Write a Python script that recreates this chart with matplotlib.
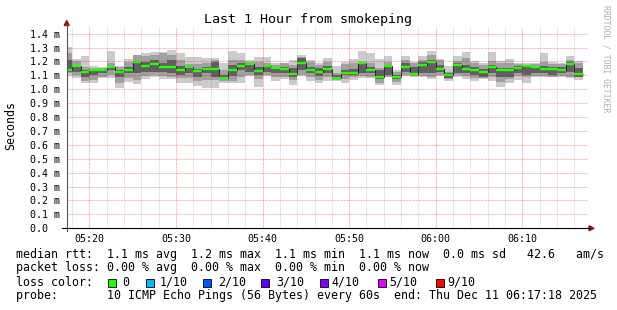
import matplotlib
matplotlib.use("Agg")
import matplotlib.pyplot as plt
import numpy as np
from matplotlib.patches import Rectangle, Polygon
from matplotlib.lines import Line2D

plt.rcParams['font.family'] = ['DejaVu Sans Mono', 'DejaVu Sans']

W, H = 617, 310

# one step per minute, minutes after 05:00 (first step 05:17, last 06:16)
first_minute = 17
median = [1.139, 1.170, 1.127, 1.139, 1.139, 1.158, 1.124, 1.139, 1.196, 1.168,
          1.180, 1.163, 1.158, 1.139, 1.158, 1.129, 1.146, 1.144, 1.079, 1.139,
          1.170, 1.180, 1.132, 1.170, 1.153, 1.148, 1.110, 1.187, 1.139, 1.127,
          1.146, 1.079, 1.117, 1.117, 1.187, 1.139, 1.091, 1.168, 1.091, 1.158,
          1.110, 1.177, 1.196, 1.148, 1.103, 1.175, 1.148, 1.139, 1.127, 1.158,
          1.139, 1.139, 1.156, 1.170, 1.158, 1.146, 1.144, 1.139, 1.180, 1.110]
# outer smoke (lightest)
light_hi = [1.302, 1.218, 1.240, 1.168, 1.163, 1.276, 1.168, 1.218, 1.247, 1.264,
            1.266, 1.266, 1.283, 1.264, 1.235, 1.230, 1.223, 1.223, 1.192, 1.276,
            1.264, 1.211, 1.235, 1.230, 1.192, 1.192, 1.211, 1.247, 1.211, 1.192,
            1.223, 1.168, 1.199, 1.216, 1.276, 1.264, 1.216, 1.240, 1.139, 1.240,
            1.199, 1.240, 1.276, 1.216, 1.168, 1.240, 1.266, 1.206, 1.187, 1.266,
            1.206, 1.218, 1.192, 1.192, 1.187, 1.264, 1.199, 1.187, 1.240, 1.206]
light_lo = [1.096, 1.084, 1.048, 1.048, 1.079, 1.079, 1.012, 1.055, 1.038, 1.072,
            1.091, 1.072, 1.072, 1.043, 1.043, 1.026, 1.012, 1.012, 1.048, 1.048,
            1.048, 1.096, 1.019, 1.096, 1.060, 1.072, 1.031, 1.096, 1.060, 1.043,
            1.062, 1.062, 1.048, 1.067, 1.079, 1.079, 1.031, 1.086, 1.031, 1.096,
            1.091, 1.091, 1.072, 1.096, 1.062, 1.086, 1.074, 1.062, 1.072, 1.062,
            1.019, 1.048, 1.067, 1.048, 1.091, 1.086, 1.086, 1.086, 1.079, 1.067]
# middle smoke
mid_hi = [1.259, 1.206, 1.163, 1.151, 1.151, 1.187, 1.158, 1.199, 1.247, 1.240,
          1.247, 1.259, 1.247, 1.211, 1.182, 1.182, 1.192, 1.211, 1.139, 1.211,
          1.211, 1.199, 1.199, 1.187, 1.175, 1.187, 1.175, 1.235, 1.199, 1.175,
          1.199, 1.115, 1.182, 1.192, 1.192, 1.187, 1.151, 1.199, 1.127, 1.211,
          1.192, 1.211, 1.247, 1.211, 1.127, 1.206, 1.223, 1.192, 1.175, 1.206,
          1.187, 1.187, 1.182, 1.175, 1.182, 1.199, 1.182, 1.182, 1.211, 1.187]
mid_lo = [1.115, 1.103, 1.062, 1.067, 1.091, 1.103, 1.048, 1.079, 1.067, 1.096,
          1.103, 1.096, 1.091, 1.079, 1.079, 1.062, 1.067, 1.067, 1.062, 1.062,
          1.091, 1.103, 1.072, 1.103, 1.091, 1.086, 1.067, 1.103, 1.086, 1.067,
          1.091, 1.067, 1.072, 1.086, 1.096, 1.091, 1.048, 1.091, 1.055, 1.100,
          1.096, 1.096, 1.086, 1.103, 1.072, 1.100, 1.096, 1.079, 1.079, 1.086,
          1.055, 1.072, 1.096, 1.091, 1.096, 1.096, 1.091, 1.096, 1.091, 1.086]
# inner smoke (darkest)
dark_hi = [1.211, 1.175, 1.139, 1.139, 1.144, 1.168, 1.139, 1.163, 1.206, 1.199,
           1.211, 1.187, 1.211, 1.168, 1.163, 1.144, 1.163, 1.199, 1.103, 1.175,
           1.187, 1.187, 1.163, 1.175, 1.151, 1.163, 1.151, 1.223, 1.163, 1.151,
           1.168, 1.103, 1.139, 1.144, 1.182, 1.163, 1.139, 1.175, 1.103, 1.187,
           1.163, 1.199, 1.211, 1.175, 1.115, 1.192, 1.175, 1.163, 1.144, 1.175,
           1.151, 1.151, 1.168, 1.163, 1.168, 1.168, 1.158, 1.158, 1.199, 1.151]
dark_lo = [1.122, 1.127, 1.091, 1.103, 1.115, 1.139, 1.091, 1.115, 1.115, 1.127,
           1.127, 1.127, 1.115, 1.103, 1.115, 1.091, 1.115, 1.091, 1.072, 1.096,
           1.139, 1.127, 1.103, 1.127, 1.115, 1.115, 1.091, 1.139, 1.115, 1.096,
           1.115, 1.072, 1.103, 1.103, 1.115, 1.115, 1.072, 1.103, 1.072, 1.127,
           1.103, 1.115, 1.115, 1.127, 1.079, 1.120, 1.115, 1.103, 1.086, 1.115,
           1.091, 1.091, 1.115, 1.103, 1.115, 1.115, 1.103, 1.115, 1.127, 1.091]

x_ticks = [20, 30, 40, 50, 60, 70]
x_labels = ["05:20", "05:30", "05:40", "05:50", "06:00", "06:10"]
y_ticks = [0.0, 0.1, 0.2, 0.3, 0.4, 0.5, 0.6, 0.7, 0.8, 0.9, 1.0, 1.1, 1.2, 1.3, 1.4]

loss_labels = ["0", "1/10", "2/10", "3/10", "4/10", "5/10", "9/10"]
loss_colors = ["#26ff00", "#00b8ff", "#0059ff", "#5e00ff", "#7e00ff", "#dd00ff", "#ff0000"]

legend_rows = [
    "median rtt:  1.1 ms avg  1.2 ms max  1.1 ms min  1.1 ms now  0.0 ms sd   42.6   am/s",
    "packet loss: 0.00 % avg  0.00 % max  0.00 % min  0.00 % now",
]
probe_row = "probe:       10 ICMP Echo Pings (56 Bytes) every 60s  end: Thu Dec 11 06:17:18 2025"


def fx(x):
    return x / W


def fy(y):
    return 1 - y / H


fig = plt.figure(figsize=(W / 100, H / 100), dpi=100, facecolor='white')
ax = fig.add_axes([fx(66.7), fy(228.3), (588 - 66.7) / W, (228.3 - 26.7) / H])
ax.set_xlim(17.38, 77.58)
ax.set_ylim(0, 1.45)
for s in ax.spines.values():
    s.set_visible(False)

edges = np.arange(first_minute, first_minute + len(median) + 1)

ax.stairs(light_hi, edges, baseline=light_lo, fill=True, color='#cbcbcb', lw=0, zorder=1)
ax.stairs(mid_hi, edges, baseline=mid_lo, fill=True, color='#a0a0a0', lw=0, zorder=2)
ax.stairs(dark_hi, edges, baseline=dark_lo, fill=True, color='#606060', lw=0, zorder=3)
ax.stairs(median, edges, baseline=None, color='#202020', lw=0.7, zorder=4)
ax.hlines(median, edges[:-1], edges[1:], colors=loss_colors[0], lw=1.7, zorder=5)

# grid on top, rrdtool style
dots = (0, (0.72, 0.72))
for m in range(18, 78, 2):
    if m % 10:
        ax.axvline(m, color='#808080', alpha=0.35, lw=0.72, ls=dots, zorder=6)
for m in x_ticks:
    ax.axvline(m, color='#ff0000', alpha=0.4, lw=0.72, ls=dots, zorder=6)
for v in y_ticks[1:]:
    ax.axhline(v, color='#ff0000', alpha=0.4, lw=0.72, ls=dots, zorder=6)

ax.set_xticks(x_ticks, x_labels)
ax.set_yticks(y_ticks, ["0.0  "] + ["%.1f m" % v for v in y_ticks[1:]])
ax.tick_params(axis='both', length=0, labelsize=7.2, colors='#000000')
ax.tick_params(axis='x', pad=4)
ax.tick_params(axis='y', pad=5)

# axes with arrows
fig.add_artist(Line2D([fx(62), fx(590)], [fy(228.3), fy(228.3)], color='#000000', lw=0.8))
fig.add_artist(Line2D([fx(66.7), fx(66.7)], [fy(231), fy(24)], color='#555555', lw=0.8))
fig.add_artist(Polygon([[fx(64.2), fy(25.5)], [fx(69.2), fy(25.5)], [fx(66.7), fy(20.5)]],
                       closed=True, color='#8b1a1a', transform=fig.transFigure))
fig.add_artist(Polygon([[fx(589), fy(225.8)], [fx(589), fy(230.8)], [fx(594), fy(228.3)]],
                       closed=True, color='#8b1a1a', transform=fig.transFigure))

fig.text(fx(307.5), fy(20), "Last 1 Hour from smokeping", ha='center', va='center', fontsize=9.6)
fig.text(fx(11), fy(126), "Seconds", rotation=90, ha='center', va='center', fontsize=8.4)
fig.text(fx(606), fy(59), "RRDTOOL / TOBI OETIKER", rotation=270, ha='center', va='center',
         fontsize=5.9, color='#b0b0b0')

fs = 8.4
fig.text(fx(16), fy(254.5), legend_rows[0], ha='left', va='center', fontsize=fs)
fig.text(fx(16), fy(267.5), legend_rows[1], ha='left', va='center', fontsize=fs)
fig.text(fx(16), fy(282), "loss color:", ha='left', va='center', fontsize=fs)
box_x = [108.3, 146, 203.3, 261, 320, 377.7, 435.7]
label_x = [122, 160, 218, 276, 331.7, 389, 447.7]
for bx, lx, col, lab in zip(box_x, label_x, loss_colors, loss_labels):
    fig.add_artist(Rectangle((fx(bx), fy(286.5)), 8 / W, 7.5 / H, facecolor=col,
                             edgecolor='#000000', lw=0.6, transform=fig.transFigure))
    fig.text(fx(lx), fy(282), lab, ha='left', va='center', fontsize=fs)
fig.text(fx(16), fy(296), probe_row, ha='left', va='center', fontsize=fs)

fig.savefig("out.png", dpi=100, facecolor='white')
